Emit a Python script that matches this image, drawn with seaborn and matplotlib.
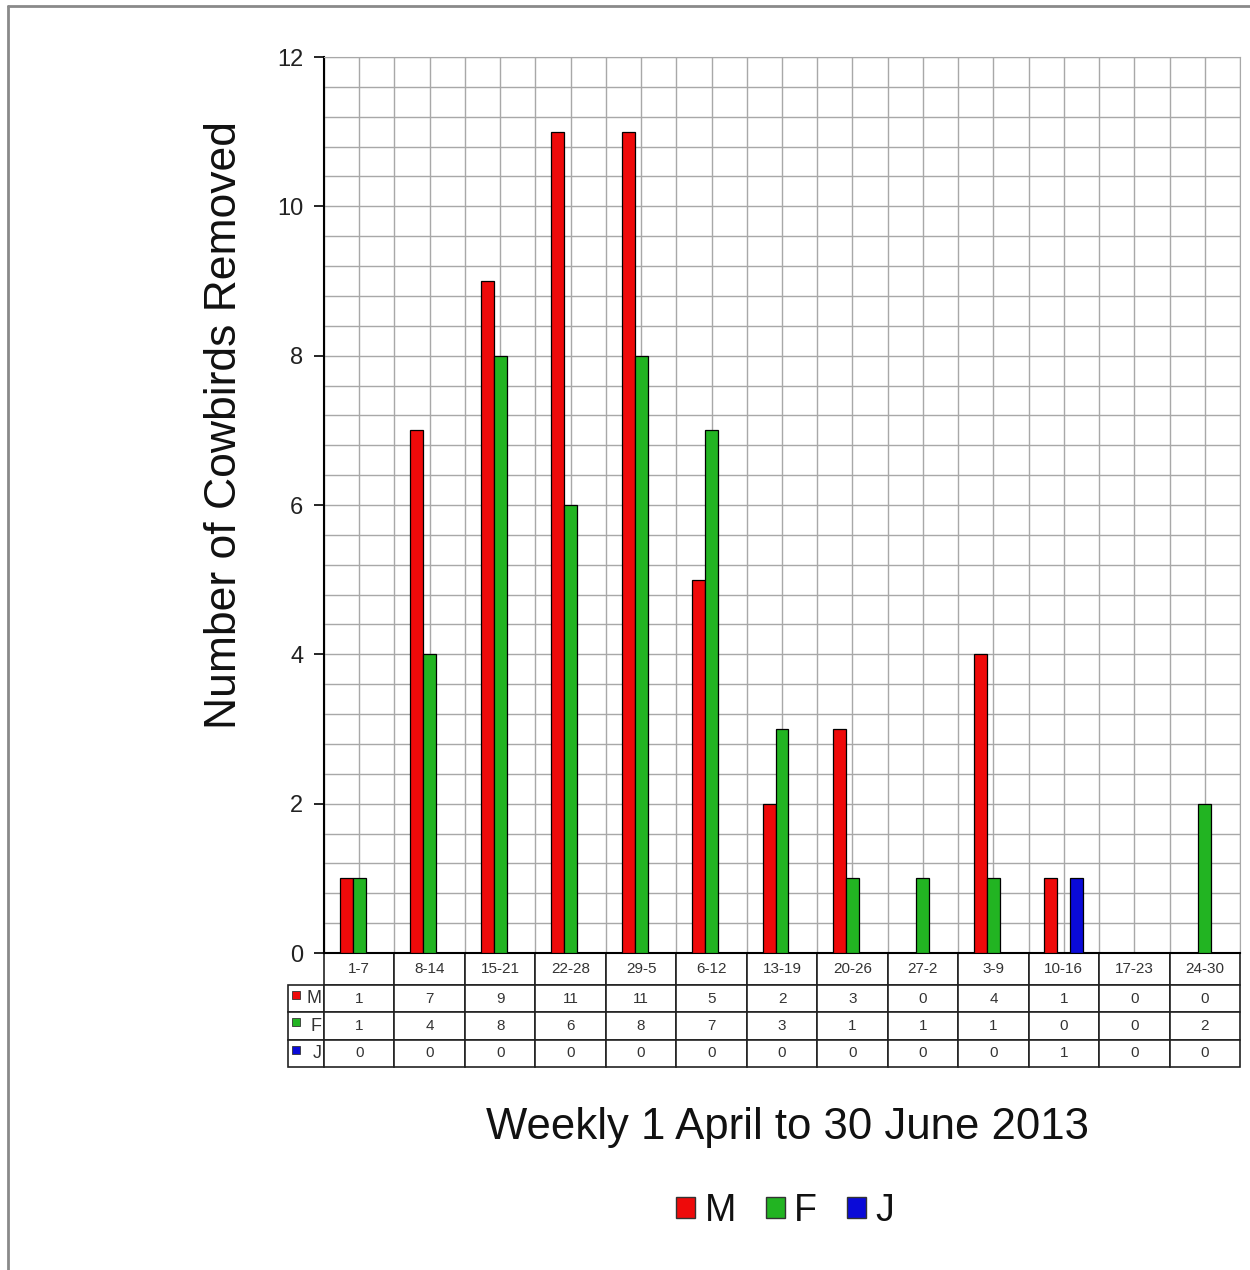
import numpy as np
import pandas as pd
import matplotlib
matplotlib.use("Agg")
import matplotlib.pyplot as plt
import matplotlib.patches as mpatches
import matplotlib.lines as mlines
import seaborn as sns

# data
weeks = ["1-7", "8-14", "15-21", "22-28", "29-5", "6-12", "13-19",
         "20-26", "27-2", "3-9", "10-16", "17-23", "24-30"]
males = [1, 7, 9, 11, 11, 5, 2, 3, 0, 4, 1, 0, 0]
females = [1, 4, 8, 6, 8, 7, 3, 1, 1, 1, 0, 0, 2]
juveniles = [0, 0, 0, 0, 0, 0, 0, 0, 0, 0, 1, 0, 0]
groups = ["M", "F", "J"]
colours = {"M": "#ee0a0a", "F": "#22b422", "J": "#0a0ad8"}

sns.set_style("white")
plt.rcParams["font.family"] = ["Liberation Sans", "DejaVu Sans"]

df = pd.DataFrame({
    "week": weeks * 3,
    "group": ["M"] * 13 + ["F"] * 13 + ["J"] * 13,
    "count": males + females + juveniles,
})

fig = plt.figure(figsize=(12.5, 12.7), dpi=100)
ax = fig.add_axes([0.2592, 0.2496, 0.7328, 0.7055])

sns.barplot(data=df, x="week", y="count", hue="group", order=weeks,
            hue_order=groups, palette=colours, saturation=1, width=0.55,
            dodge=True, edgecolor="black", linewidth=0.9, ax=ax,
            legend=False, zorder=3)

# hide zero-height bars
for p in ax.patches:
    if p.get_height() == 0:
        p.set_visible(False)

ax.set_xlim(-0.5, 12.5)
ax.set_ylim(0, 12)
ax.set_yticks(np.arange(0, 13, 2))
ax.set_yticks(np.arange(0, 12.01, 0.4), minor=True)
ax.set_xticks(np.arange(13))
ax.set_xticks(np.arange(-0.5, 13, 1), minor=True)
ax.set_xticklabels([])
ax.tick_params(axis="x", which="both", length=0)
ax.tick_params(axis="y", which="major", length=7, width=1.2, color="black",
               labelsize=17, labelcolor="#222222", pad=8, left=True)
ax.tick_params(axis="y", which="minor", length=0)
ax.grid(True, which="both", color="#a8a8a8", linewidth=1.0, zorder=0)
ax.set_axisbelow(True)

for s in ["top", "right"]:
    ax.spines[s].set_color("#a8a8a8")
for s in ["left", "bottom"]:
    ax.spines[s].set_color("black")
    ax.spines[s].set_linewidth(1.5)

ax.set_xlabel("")
ax.set_ylabel("Number of Cowbirds Removed", fontsize=32, color="#111111")
ax.yaxis.set_label_coords(-0.086, 0.589)

# data table under the axis (first column holds the row labels)
cell_text = [[g] + [str(v) for v in vals]
             for g, vals in zip(groups, [males, females, juveniles])]
lab_w = 0.0393
tbl = ax.table(cellText=cell_text, colLabels=[""] + weeks,
               colWidths=[lab_w] + [1 / 13] * 13, cellLoc="center",
               bbox=[-lab_w, -0.1272, 1 + lab_w, 0.1272])
tbl.auto_set_font_size(False)
tbl.set_fontsize(11)
for (r, c), cell in tbl.get_celld().items():
    cell.set_edgecolor("#222222")
    cell.set_linewidth(1.2)
    cell.get_text().set_color("#333333")
    cell.set_height(32 if r == 0 else 27.3)
    if c == 0:
        cell.get_text().set_ha("right")
        cell.get_text().set_fontsize(13)
        cell.PAD = 0.06
        if r == 0:
            cell.visible_edges = ""

# coloured markers in the row labels
for i, g in enumerate(groups):
    yc = 1 - (985 + 27.3 * i + 10) / 1270
    fig.patches.append(mpatches.Rectangle((292 / 1250, yc - 4 / 1270), 8 / 1250, 8 / 1270,
                                          transform=fig.transFigure,
                                          facecolor=colours[g], edgecolor="#333333",
                                          linewidth=0.6, figure=fig, zorder=10))

fig.text(787 / 1250, 1 - 1127 / 1270, "Weekly 1 April to 30 June 2013",
         ha="center", va="center", fontsize=31.5, color="#111111")

handles = [mpatches.Patch(facecolor=colours[g], edgecolor="#333333", label=g)
           for g in groups]
fig.legend(handles=handles, loc="center", bbox_to_anchor=(785 / 1250, 1 - 1211 / 1270),
           ncol=3, frameon=False, fontsize=27, handlelength=0.5, handleheight=0.5,
           handletextpad=0.25, columnspacing=0.8, labelcolor="#111111")

# grey frame lines on the top and left of the figure
fig.lines.append(mlines.Line2D([8 / 1250, 8 / 1250], [0, 1 - 6 / 1270],
                               transform=fig.transFigure, color="#8a8a8a", lw=2))
fig.lines.append(mlines.Line2D([8 / 1250, 1], [1 - 6 / 1270, 1 - 6 / 1270],
                               transform=fig.transFigure, color="#8a8a8a", lw=2))

fig.savefig("out.png", dpi=100)
